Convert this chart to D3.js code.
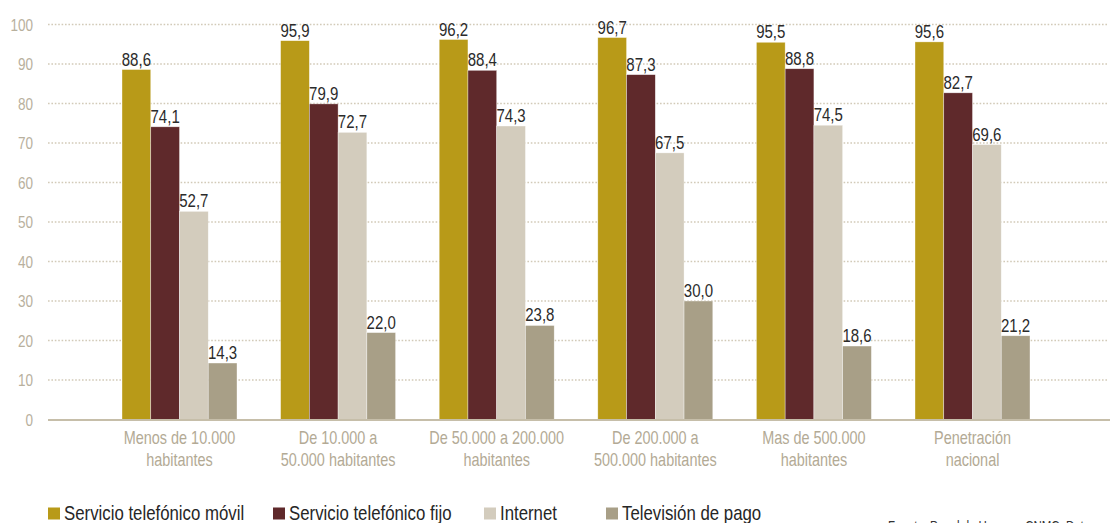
<!DOCTYPE html>
<html lang="es">
<head>
<meta charset="utf-8">
<script src="https://cdn.jsdelivr.net/npm/d3@7"></script>
<style>
  html, body { margin: 0; padding: 0; background: #fff; }
  svg { display: block; }
  text { font-family: "Liberation Sans", Arial, sans-serif; }
</style>
</head>
<body>
<svg id="chart" width="1110" height="523"></svg>
<script>
// Penetración de servicios por tamaño de municipio (%)
const categories = [
  ["Menos de 10.000", "habitantes"],
  ["De 10.000 a", "50.000 habitantes"],
  ["De 50.000 a 200.000", "habitantes"],
  ["De 200.000 a", "500.000 habitantes"],
  ["Mas de 500.000", "habitantes"],
  ["Penetración", "nacional"]
];
const seriesNames = ["Servicio telefónico móvil", "Servicio telefónico fijo", "Internet", "Televisión de pago"];
const movil    = [88.6, 95.9, 96.2, 96.7, 95.5, 95.6];
const fijo     = [74.1, 79.9, 88.4, 87.3, 88.8, 82.7];
const internet = [52.7, 72.7, 74.3, 67.5, 74.5, 69.6];
const tvPago   = [14.3, 22.0, 23.8, 30.0, 18.6, 21.2];
const yTicks = [0, 10, 20, 30, 40, 50, 60, 70, 80, 90, 100];
const colors = ["#b89a18", "#5f292b", "#d3ccbd", "#a89f87"];
const sourceNote = "Fuente: Panel de Hogares CNMC. Datos";

const series = [movil, fijo, internet, tvPago];
const svg = d3.select("#chart");

const y = d3.scaleLinear().domain([0, 100]).range([419.5, 24.5]);
const x = d3.scaleBand().domain(d3.range(categories.length))
  .range([100.2, 1051.8]).paddingInner(0.275).paddingOuter(0.1375);
const xi = d3.scaleBand().domain(d3.range(series.length)).range([0, x.bandwidth()]);

const es = d3.formatLocale({ decimal: ",", thousands: ".", grouping: [3], currency: ["", "€"] });
const fmt = es.format(".1f");

// condensed look: horizontally squeezed sans text anchored at (px, py)
function squeeze(sel, px, py, sx) {
  return sel.attr("x", 0).attr("y", 0)
    .attr("transform", (d, i) => `translate(${px(d, i)},${py(d, i)}) scale(${sx},1)`);
}

// dotted gridlines
svg.append("g").selectAll("line")
  .data(yTicks.filter(d => d > 0))
  .join("line")
  .attr("x1", 48).attr("x2", 1108)
  .attr("y1", d => y(d)).attr("y2", d => y(d))
  .attr("stroke", "#d2cab8").attr("stroke-width", 1.5)
  .attr("stroke-dasharray", "1.6,1.8");

// y tick labels
svg.append("g").selectAll("text")
  .data(yTicks)
  .join("text")
  .call(squeeze, () => 33, d => y(d) + 6, 0.82)
  .attr("text-anchor", "end")
  .attr("font-size", 16.5)
  .attr("fill", "#b8b09d")
  .text(d => d);

// bars
const groups = svg.append("g").selectAll("g")
  .data(categories.map((c, i) => i))
  .join("g")
  .attr("transform", i => `translate(${x(i)},0)`);

groups.selectAll("rect")
  .data(i => series.map((s, k) => ({ k, v: s[i] })))
  .join("rect")
  .attr("x", d => xi(d.k))
  .attr("width", xi.bandwidth())
  .attr("y", d => y(d.v))
  .attr("height", d => y(0) - y(d.v))
  .attr("fill", d => colors[d.k])
  .attr("stroke", "#ffffff").attr("stroke-width", 0.6).attr("stroke-opacity", 0.6);

groups.selectAll("text.val")
  .data(i => series.map((s, k) => ({ k, v: s[i] })))
  .join("text")
  .attr("class", "val")
  .call(squeeze, d => xi(d.k) + xi.bandwidth() / 2, d => y(d.v) - 4, 0.79)
  .attr("text-anchor", "middle")
  .attr("font-size", 19)
  .attr("fill", "#2b2b2b")
  .text(d => fmt(d.v));

// baseline
svg.append("line")
  .attr("x1", 48).attr("x2", 1110)
  .attr("y1", y(0) + 0.5).attr("y2", y(0) + 0.5)
  .attr("stroke", "#c6bea9").attr("stroke-width", 2);

// category labels, two lines each
const catLines = categories.flatMap((c, i) => c.map((t, j) => ({ t, i, j })));
svg.append("g").selectAll("text")
  .data(catLines)
  .join("text")
  .call(squeeze, d => x(d.i) + x.bandwidth() / 2, d => 444 + d.j * 22, 0.78)
  .attr("text-anchor", "middle")
  .attr("font-size", 18.5)
  .attr("fill", "#b3aa95")
  .text(d => d.t);

// legend
const legendX = [48, 273, 484, 606];
const leg = svg.append("g").selectAll("g")
  .data(seriesNames.map((n, k) => ({ n, k })))
  .join("g")
  .attr("transform", d => `translate(${legendX[d.k]},0)`);
leg.append("rect")
  .attr("x", 0).attr("y", 507.5).attr("width", 12).attr("height", 12)
  .attr("fill", d => colors[d.k]);
leg.append("text")
  .call(squeeze, () => 16, () => 520, 0.82)
  .attr("font-size", 20.5)
  .attr("fill", "#262626")
  .text(d => d.n);

// source note
svg.append("text")
  .call(squeeze, () => 888, () => 531, 0.82)
  .attr("font-size", 14)
  .attr("fill", "#333")
  .text(sourceNote);
</script>
</body>
</html>
